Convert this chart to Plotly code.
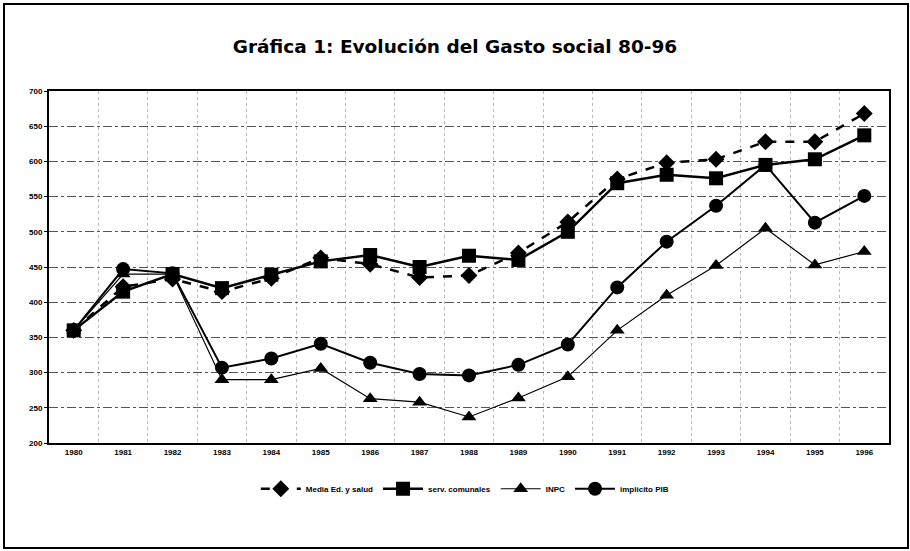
import plotly.graph_objects as go

years = list(range(1980, 1997))
media_ed_salud = [360, 422, 433, 415, 434, 463, 454, 435, 438, 470, 514, 575, 598, 603, 628, 628, 668]
serv_comunales = [360, 415, 440, 420, 439, 458, 467, 450, 466, 460, 500, 569, 581, 576, 595, 603, 637]
inpc = [360, 440, 440, 290, 290, 306, 263, 258, 237, 264, 294, 360, 410, 452, 505, 453, 472]
implicito_pib = [360, 447, 441, 307, 320, 341, 314, 298, 296, 311, 340, 421, 486, 537, 595, 513, 551]

font_fam = "Liberation Sans, Arial, sans-serif"
title_fam = "DejaVu Sans, Liberation Sans, sans-serif"

fig = go.Figure()
fig.add_trace(go.Scatter(x=years, y=media_ed_salud, name="Media Ed. y salud", mode="lines+markers",
                         line=dict(color="black", width=2.5, dash="dash"),
                         marker=dict(symbol="diamond", size=13, color="black")))
fig.add_trace(go.Scatter(x=years, y=serv_comunales, name="serv. comunales", mode="lines+markers",
                         line=dict(color="black", width=2.5),
                         marker=dict(symbol="square", size=14, color="black")))
fig.add_trace(go.Scatter(x=years, y=inpc, name="INPC", mode="lines+markers",
                         line=dict(color="black", width=1.2),
                         marker=dict(symbol="triangle-up", size=13, color="black")))
fig.add_trace(go.Scatter(x=years, y=implicito_pib, name="implícito PIB", mode="lines+markers",
                         line=dict(color="black", width=2),
                         marker=dict(symbol="circle", size=14, color="black")))

fig.update_layout(
    width=910, height=551,
    margin=dict(l=49, r=21, t=91, b=108),
    paper_bgcolor="white", plot_bgcolor="white",
    font=dict(family=font_fam, color="black"),
    title=dict(text="<b>Gráfica 1: Evolución del Gasto social 80-96</b>",
               x=0.5, xanchor="center", y=1 - 47 / 551, yanchor="middle", yref="container",
               font=dict(size=18.5, family=title_fam, color="black")),
    xaxis=dict(range=[1979.5, 1996.5], tickmode="array", tickvals=years,
               ticktext=[str(y) for y in years], showgrid=False, ticks="",
               tickfont=dict(size=8, family=font_fam, weight="bold"),
               showline=True, linecolor="black", linewidth=2, mirror=True, zeroline=False,
               minor=dict(tickmode="array", tickvals=[y + 0.5 for y in years[:-1]],
                          showgrid=True, gridcolor="#bbb", griddash="dot", gridwidth=1, ticks="")),
    yaxis=dict(range=[200, 700], dtick=50, tickfont=dict(size=8, family=font_fam, weight="bold"),
               showgrid=True, gridcolor="#555", griddash="dashdot", gridwidth=1,
               showline=True, linecolor="black", linewidth=2, mirror=True, zeroline=False,
               ticks="outside", ticklen=3, tickcolor="black"),
    legend=dict(orientation="h", x=0.495, xanchor="center", y=-0.13, yanchor="middle",
                font=dict(size=8, family=font_fam, weight="bold"), itemwidth=40,
                bgcolor="rgba(0,0,0,0)"),
    showlegend=True,
)

fig.add_shape(type="rect", xref="paper", yref="paper",
              x0=-45 / 840, x1=1 + 19 / 840, y0=-105 / 352, y1=1 + 87 / 352,
              line=dict(color="black", width=2), fillcolor="rgba(0,0,0,0)")

fig.write_html("out.html", config={"displayModeBar": False},
               post_script="document.body.style.margin='0';document.body.style.overflow='hidden';")
